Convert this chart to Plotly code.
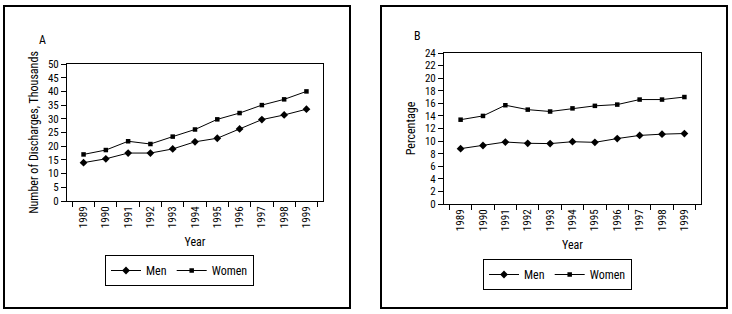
import plotly.graph_objects as go

years = ["1989", "1990", "1991", "1992", "1993", "1994", "1995", "1996", "1997", "1998", "1999"]
men_discharges = [14.0, 15.4, 17.5, 17.5, 19.0, 21.6, 22.9, 26.3, 29.7, 31.4, 33.5]
women_discharges = [17.0, 18.6, 21.8, 20.8, 23.5, 26.1, 29.8, 32.1, 35.0, 37.1, 40.0]
men_pct = [8.8, 9.3, 9.85, 9.65, 9.6, 9.9, 9.8, 10.4, 10.9, 11.1, 11.2]
women_pct = [13.4, 14.0, 15.7, 15.0, 14.7, 15.2, 15.6, 15.8, 16.6, 16.6, 17.0]
a_ticks = list(range(0, 51, 5))
b_ticks = list(range(0, 25, 2))

W, H = 732, 314
FONT = "Roboto Condensed, DejaVu Sans Condensed, sans-serif"

def px(x):
    return x / W

def py(y):
    return (H - y) / H

fig = go.Figure()

men_style = dict(mode="lines+markers", line=dict(color="black", width=1),
                 marker=dict(symbol="diamond", size=6, color="black"))
women_style = dict(mode="lines+markers", line=dict(color="black", width=1),
                   marker=dict(symbol="square", size=4.5, color="black"))

fig.add_trace(go.Scatter(x=years, y=men_discharges, name="Men", xaxis="x", yaxis="y",
                         legend="legend", **men_style))
fig.add_trace(go.Scatter(x=years, y=women_discharges, name="Women", xaxis="x", yaxis="y",
                         legend="legend", **women_style))
fig.add_trace(go.Scatter(x=years, y=men_pct, name="Men", xaxis="x2", yaxis="y2",
                         legend="legend2", **men_style))
fig.add_trace(go.Scatter(x=years, y=women_pct, name="Women", xaxis="x2", yaxis="y2",
                         legend="legend2", **women_style))

xcommon = dict(type="category", tickson="boundaries", ticks="outside", ticklen=5,
               tickcolor="black", tickwidth=1, tickangle=-90, showline=True,
               linecolor="black", linewidth=1, mirror=True, showgrid=False,
               automargin=False,
               tickfont=dict(family=FONT, size=11, color="black"),
               title=dict(text="Year", font=dict(family=FONT, size=12, color="black"), standoff=10),
               zeroline=False)
ycommon = dict(ticks="outside", ticklen=5, tickcolor="black", tickwidth=1,
               showline=True, linecolor="black", linewidth=1, mirror=True,
               showgrid=False, zeroline=False, automargin=False,
               tickfont=dict(family=FONT, size=11, color="black"))

legend_common = dict(orientation="h", xanchor="left", yanchor="top",
                     bordercolor="black", borderwidth=1, bgcolor="white",
                     font=dict(family=FONT, size=12, color="black"),
                     itemwidth=30)

fig.update_layout(
    width=W, height=H,
    margin=dict(l=0, r=0, t=0, b=0, autoexpand=False),
    paper_bgcolor="white", plot_bgcolor="white",
    font=dict(family=FONT, color="black"),
    xaxis=dict(domain=[px(67), px(323)], anchor="y", **xcommon),
    yaxis=dict(domain=[py(201), py(64)], anchor="x", range=[0, 50],
               tickvals=a_ticks,
               title=dict(text="Number of Discharges, Thousands",
                          font=dict(family=FONT, size=12, color="black"), standoff=6),
               **ycommon),
    xaxis2=dict(domain=[px(444), px(701)], anchor="y2", **xcommon),
    yaxis2=dict(domain=[py(204), py(53)], anchor="x2", range=[0, 24],
                tickvals=b_ticks,
                title=dict(text="Percentage", font=dict(family=FONT, size=12, color="black"), standoff=6),
                **ycommon),
    legend=dict(x=px(105), y=py(255), **legend_common),
    legend2=dict(x=px(483), y=py(259), **legend_common),
    showlegend=True,
    shapes=[
        dict(type="rect", xref="paper", yref="paper", x0=px(4), x1=px(350), y0=py(308), y1=py(6),
             line=dict(color="black", width=2)),
        dict(type="rect", xref="paper", yref="paper", x0=px(381), x1=px(727), y0=py(308), y1=py(6),
             line=dict(color="black", width=2)),
    ],
    annotations=[
        dict(text="A", x=px(42), y=py(40), xref="paper", yref="paper", showarrow=False,
             xanchor="center", yanchor="middle",
             font=dict(family=FONT, size=12, color="black")),
        dict(text="B", x=px(417), y=py(36), xref="paper", yref="paper", showarrow=False,
             xanchor="center", yanchor="middle",
             font=dict(family=FONT, size=12, color="black")),
    ],
)

fig.write_html("out.html", config={"displayModeBar": False},
               post_script="document.body.style.margin='0px';")
